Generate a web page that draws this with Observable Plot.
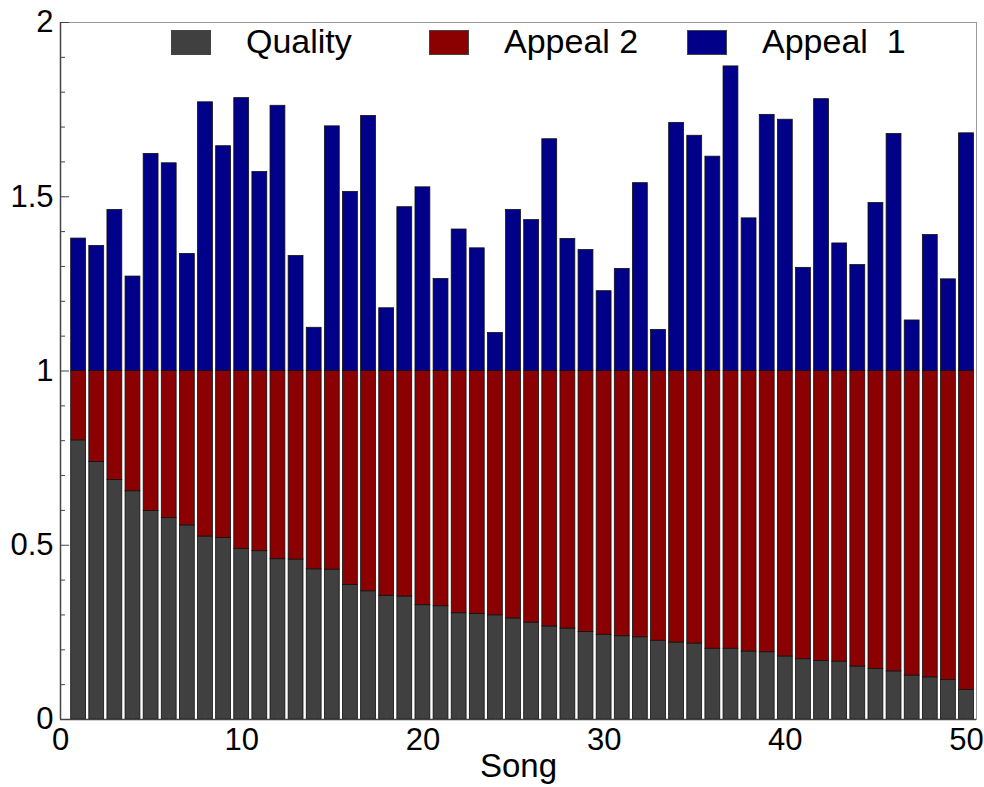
<!DOCTYPE html>
<html><head><meta charset="utf-8">
<script src="https://cdn.jsdelivr.net/npm/d3@7"></script>
<script src="https://cdn.jsdelivr.net/npm/@observablehq/plot@0.6"></script>
<style>
body{margin:0;background:#fff;font-family:"Liberation Sans",Arial,Helvetica,sans-serif;}
#wrap{position:relative;width:984px;height:787px;}
.sw{position:absolute;top:30px;width:40px;height:25px;box-sizing:border-box;border:1px solid #444;}
.lt{position:absolute;top:24px;font-size:34px;line-height:34px;white-space:pre;color:#000;}
</style></head><body><div id="wrap"></div>
<script>
const songs = [1,2,3,4,5,6,7,8,9,10,11,12,13,14,15,16,17,18,19,20,21,22,23,24,25,26,27,28,29,30,31,32,33,34,35,36,37,38,39,40,41,42,43,44,45,46,47,48,49,50];
const seriesNames = ["Quality","Appeal 2","Appeal 1"];
const seriesLabels = ["Quality","Appeal 2","Appeal  1"];
const seriesColors = ["#404040","#8b0000","#000088"];
const quality = [.801,.739,.687,.655,.598,.578,.557,.525,.521,.489,
  .483,.460,.459,.431,.430,.386,.368,.355,.353,.328,
  .325,.305,.303,.299,.290,.278,.267,.261,.251,.243,
  .239,.236,.226,.221,.218,.203,.203,.195,.193,.181,
  .173,.168,.166,.152,.145,.138,.126,.121,.113,.085];
const appeal2 = [.199,.261,.313,.345,.402,.422,.443,.475,.479,.511,
  .517,.540,.541,.569,.570,.614,.632,.645,.647,.672,
  .675,.695,.697,.701,.710,.722,.733,.739,.749,.757,
  .761,.764,.774,.779,.782,.797,.797,.805,.807,.819,
  .827,.832,.834,.848,.855,.862,.874,.879,.887,.915];
const appeal1 = [.380,.359,.462,.271,.623,.596,.336,.771,.645,.783,
  .571,.761,.330,.124,.702,.514,.732,.180,.470,.527,
  .264,.406,.352,.109,.462,.433,.665,.379,.347,.229,
  .293,.539,.118,.712,.675,.615,.874,.438,.735,.721,
  .296,.780,.366,.304,.482,.680,.145,.390,.263,.682];
const xTickLabels = [0,10,20,30,40,50];
const xMinorTicks = [2,4,6,8,12,14,16,18,22,24,26,28,32,34,36,38,42,44,46,48];
const yTickLabels = [0,0.5,1,1.5,2];
const yMinorTicks = [0.1,0.2,0.3,0.4,0.6,0.7,0.8,0.9,1.1,1.2,1.3,1.4,1.6,1.7,1.8,1.9];

const rows = [];
songs.forEach((s, i) => {
  const segs = [quality[i], appeal2[i], appeal1[i]];
  let base = 0;
  segs.forEach((v, k) => {
    rows.push({song: s, series: seriesNames[k], y1: base, y2: base + v});
    base += v;
  });
});

const axisColor = "#444";
const chart = Plot.plot({
  width: 984, height: 787,
  marginLeft: 60, marginRight: 8, marginTop: 22, marginBottom: 68,
  style: {fontFamily: "'Liberation Sans', Arial, Helvetica, sans-serif", fontSize: "31px", color: "#000", background: "#fff"},
  x: {domain: [0, 50.55]},
  y: {domain: [0, 2]},
  color: {domain: seriesNames, range: seriesColors},
  marks: [
    Plot.frame({stroke: "#999", strokeWidth: 1}),
    Plot.rectY(rows, {x1: d => d.song - 0.41, x2: d => d.song + 0.41, y1: "y1", y2: "y2", fill: "series", stroke: "#111", strokeWidth: 0.8}),
    Plot.axisY(yTickLabels, {tickSize: 0, tickPadding: 7, tickFormat: d => String(d), fontSize: 31, label: null}),
    Plot.axisY(yTickLabels, {text: null, tickSize: -9, stroke: axisColor, label: null}),
    Plot.axisY(yMinorTicks, {text: null, tickSize: -5, stroke: axisColor, label: null}),
    Plot.axisX(xTickLabels, {tickSize: 0, tickPadding: 8, tickFormat: d => String(d), fontSize: 31, label: null}),
    Plot.axisX(xTickLabels, {text: null, tickSize: -9, stroke: axisColor, label: null}),
    Plot.axisX(xMinorTicks, {text: null, tickSize: -5, stroke: axisColor, label: null}),
    Plot.ruleX([0], {stroke: axisColor, strokeWidth: 1.5}),
    Plot.ruleY([0], {stroke: axisColor, strokeWidth: 1.5}),
    Plot.text(["Song"], {frameAnchor: "bottom", dy: 57, fontSize: 33, fill: "#000"})
  ]
});
const wrap = document.getElementById("wrap");
wrap.appendChild(chart);

const swX = [171, 429, 687];
const txX = [246, 504, 762];
seriesNames.forEach((n, k) => {
  const sw = document.createElement("div");
  sw.className = "sw";
  sw.style.left = swX[k] + "px";
  sw.style.background = seriesColors[k];
  wrap.appendChild(sw);
  const t = document.createElement("div");
  t.className = "lt";
  t.style.left = txX[k] + "px";
  t.textContent = seriesLabels[k];
  wrap.appendChild(t);
});
</script>
</body></html>
